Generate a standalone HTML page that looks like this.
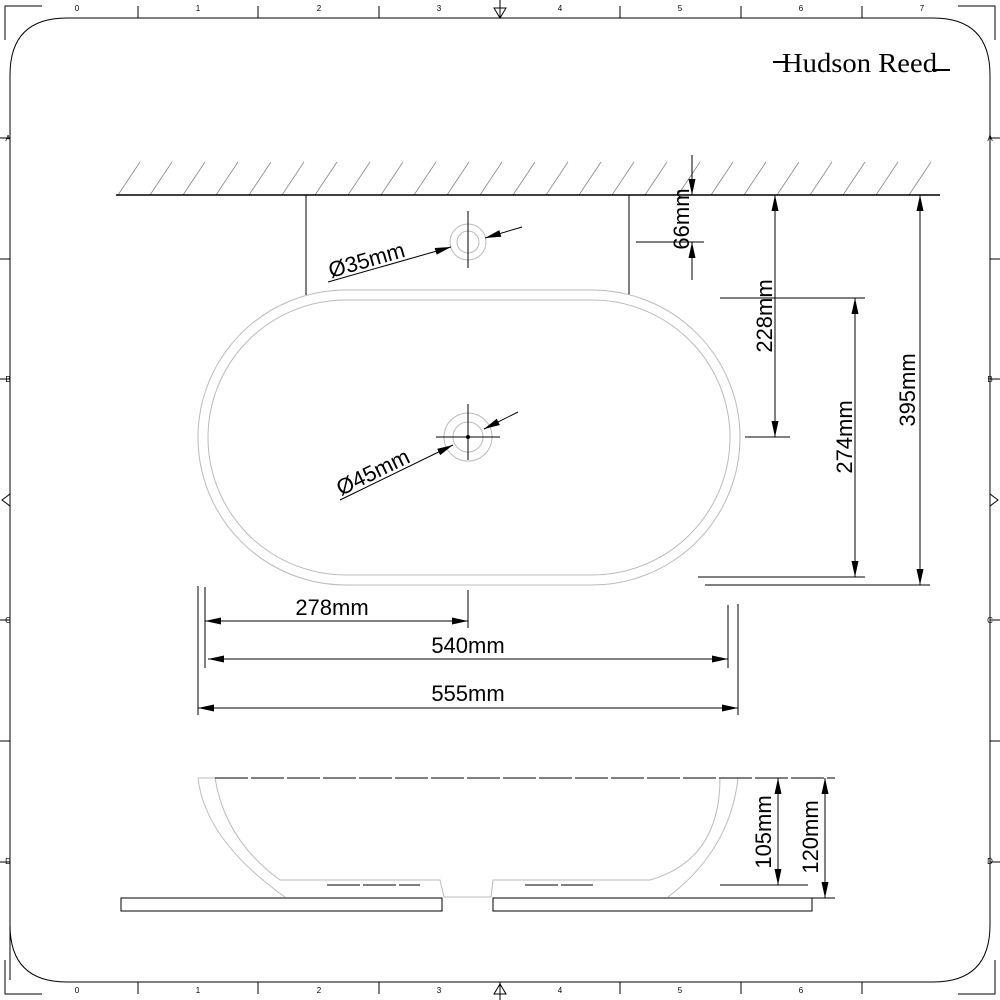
<!DOCTYPE html>
<html><head><style>body{margin:0;background:#fff}svg{display:block}text{font-family:"Liberation Sans",sans-serif}</style></head><body>
<svg width="1000" height="1000" viewBox="0 0 1000 1000" xmlns="http://www.w3.org/2000/svg">
<defs><marker id="a" viewBox="0 0 16 7" refX="16" refY="3.5" markerWidth="16" markerHeight="7" orient="auto" markerUnits="userSpaceOnUse"><path d="M0,0L16,3.5L0,7z" fill="#000"/></marker></defs>
<g stroke="#000" fill="none" stroke-width="1">
<path d="M5,40V6H42M958,6H995V40M5,960V994H42M958,994H995V960"/>
<path d="M10,980V75Q10,18 67,18H933Q990,18 990,75V925Q990,982 933,982H67Q10,982 10,925Z"/>
<path d="M138,6V18M258,6V18M379,6V18M620,6V18M741,6V18M862,6V18M500,0V18M138,982V994M258,982V994M379,982V994M620,982V994M741,982V994M862,982V994M500,982V1000"/>
<path d="M0,138H10M0,259H10M0,379H10M0,620H10M0,741H10M0,862H10M990,138H1000M990,259H1000M990,379H1000M990,620H1000M990,741H1000M990,862H1000"/>
<path d="M494,8L500,18L506,8ZM494,994L500,984L506,994ZM2,500L10,494V506ZM998,500L990,494V506Z"/>
</g>
<g font-size="8" text-anchor="middle"><text x="77" y="11">0</text><text x="198" y="11">1</text><text x="319" y="11">2</text><text x="439" y="11">3</text><text x="560" y="11">4</text><text x="680" y="11">5</text><text x="801" y="11">6</text><text x="922" y="11">7</text>
<text x="77" y="993">0</text><text x="198" y="993">1</text><text x="319" y="993">2</text><text x="439" y="993">3</text><text x="560" y="993">4</text><text x="680" y="993">5</text><text x="801" y="993">6</text>
<text x="8" y="141">A</text><text x="8" y="382">B</text><text x="8" y="623">C</text><text x="8" y="864">D</text><text x="990" y="141">A</text><text x="990" y="382">B</text><text x="990" y="623">C</text><text x="990" y="864">D</text></g>
<text x="782" y="72" font-size="27" textLength="155" lengthAdjust="spacingAndGlyphs" style="font-family:'Liberation Serif',serif">Hudson Reed</text>
<path d="M773,62H786M932,70H950" stroke="#000" stroke-width="2"/>
<g stroke="#888" stroke-width="0.8">
<path d="M118,195l22,-33M150,195l22,-33M183,195l22,-33M216,195l22,-33M249,195l22,-33M282,195l22,-33M315,195l22,-33M348,195l22,-33M381,195l22,-33M414,195l22,-33M447,195l22,-33M480,195l22,-33M513,195l22,-33M546,195l22,-33M579,195l22,-33M612,195l22,-33M645,195l22,-33M678,195l22,-33M711,195l22,-33M744,195l22,-33M777,195l22,-33M810,195l22,-33M843,195l22,-33M876,195l22,-33M909,195l22,-33"/>
</g>
<g stroke="#000" fill="none">
<path d="M116,195H940" stroke-width="1.5"/>
<path d="M306,195V295M629,195V295"/>
</g>
<g stroke="#bbb" fill="none">
<rect x="198" y="290" width="542" height="295" rx="148"/>
<rect x="208" y="300" width="522" height="275" rx="138"/>
<circle cx="468" cy="242" r="18"/><circle cx="468" cy="242" r="11"/>
<circle cx="468" cy="437" r="24"/><circle cx="468" cy="437" r="15"/>
</g>
<g stroke="#000" fill="none">
<path d="M468,211V268M436,437H500M468,404V460"/>
<path d="M328,282L451,247" marker-end="url(#a)"/><path d="M522,227L485,238" marker-end="url(#a)"/>
<path d="M340,500L453,445" marker-end="url(#a)"/><path d="M518,412L484,429" marker-end="url(#a)"/>
</g>
<circle cx="468" cy="437" r="2" fill="#000"/>
<text font-size="22" transform="translate(331,278) rotate(-16)">Ø35mm</text>
<text font-size="22" transform="translate(341,496) rotate(-26)">Ø45mm</text>
<g stroke="#000" fill="none">
<path d="M636,242H704M745,437H790M720,298H865M698,577H865M705,585H930"/>
<path d="M692,155V195" marker-end="url(#a)"/><path d="M692,280V242" marker-end="url(#a)"/>
<path d="M775,437V195" marker-end="url(#a)"/><path d="M775,300V437" marker-end="url(#a)"/>
<path d="M855,577V298" marker-end="url(#a)"/><path d="M855,300V577" marker-end="url(#a)"/>
<path d="M920,585V195" marker-end="url(#a)"/><path d="M920,200V585" marker-end="url(#a)"/>
</g>
<g font-size="22" text-anchor="middle">
<text transform="translate(689,219) rotate(-90)">66mm</text>
<text transform="translate(772,316) rotate(-90)">228mm</text>
<text transform="translate(852,437) rotate(-90)">274mm</text>
<text transform="translate(915,390) rotate(-90)">395mm</text>
</g>
<g stroke="#000" fill="none">
<path d="M205,587V668M468,590V628M728,605V668M198,586V715M738,604V715"/>
<path d="M468,621H205" marker-end="url(#a)"/><path d="M300,621H468" marker-end="url(#a)"/>
<path d="M728,659H208" marker-end="url(#a)"/><path d="M300,659H728" marker-end="url(#a)"/>
<path d="M738,708H198" marker-end="url(#a)"/><path d="M300,708H738" marker-end="url(#a)"/>
</g>
<g font-size="22" text-anchor="middle"><text x="332" y="615">278mm</text><text x="468" y="653">540mm</text><text x="468" y="701">555mm</text></g>
<g stroke="#bbb" fill="none">
<path d="M198,778Q205,840 285,897M198,778H215Q225,840 280,880H440L444,897H491L493,880H650Q720,860 720,778H738Q730,850 668,897"/>
</g>
<g stroke="#000" fill="none">
<path d="M215,778H835" stroke-dasharray="33,3"/>
<path d="M327,885H420M525,885H593" stroke-dasharray="33,3"/>
<rect x="121" y="898" width="321" height="13"/><rect x="493" y="898" width="319" height="13"/>
<path d="M720,885H808M812,898H835"/>
<path d="M778,885V778" marker-end="url(#a)"/><path d="M778,800V885" marker-end="url(#a)"/>
<path d="M825,898V778" marker-end="url(#a)"/><path d="M825,800V898" marker-end="url(#a)"/>
</g>
<g font-size="22" text-anchor="middle">
<text transform="translate(771,832) rotate(-90)">105mm</text>
<text transform="translate(818,837) rotate(-90)">120mm</text>
</g>
</svg>
</body></html>
